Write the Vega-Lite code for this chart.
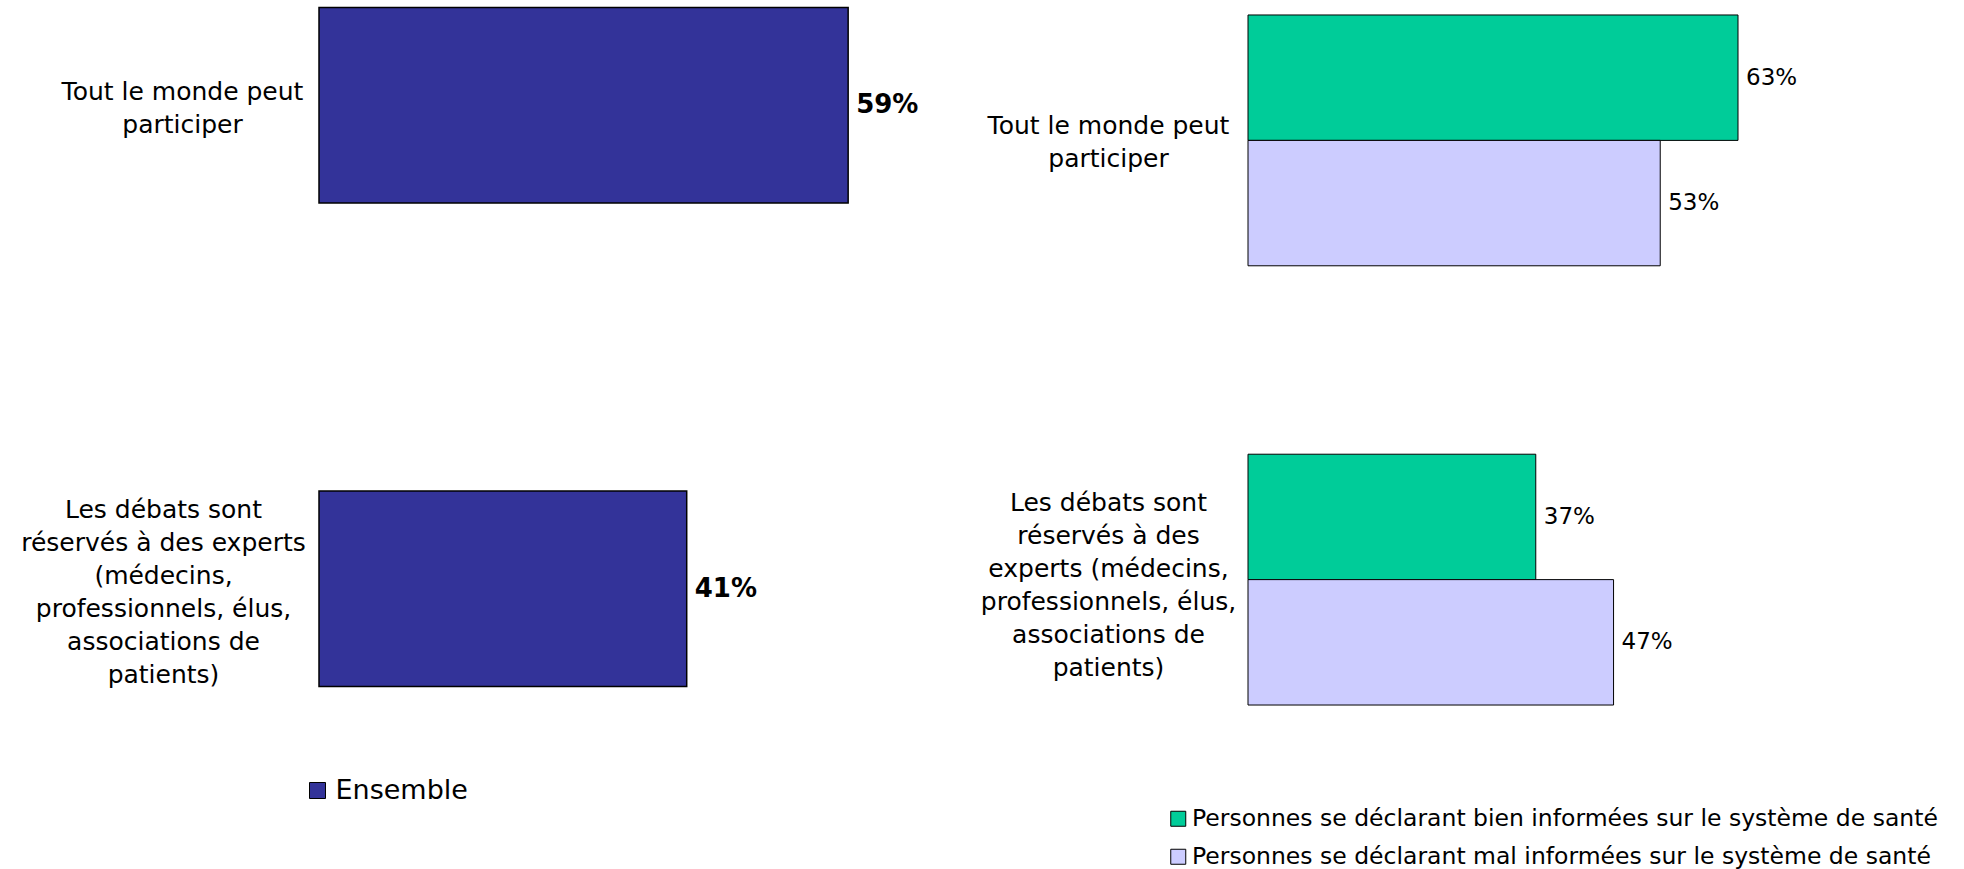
{
  "$schema": "https://vega.github.io/schema/vega-lite/v6.json",
  "padding": {"left": 20, "top": 0, "right": 0, "bottom": 0},
  "background": "white",
  "config": {
    "view": {"stroke": null},
    "font": "DejaVu Sans",
    "concat": {"spacing": 61}
  },
  "datasets": {
    "ensemble": [
      {"question": "Tout le monde peut participer", "groupe": "Ensemble", "valeur": 0.59},
      {"question": "Les débats sont réservés à des experts (médecins, professionnels, élus, associations de patients)", "groupe": "Ensemble", "valeur": 0.41}
    ],
    "info": [
      {"question": "Tout le monde peut participer", "population": "Personnes se déclarant bien informées sur le système de santé", "valeur": 0.63},
      {"question": "Tout le monde peut participer", "population": "Personnes se déclarant mal informées sur le système de santé", "valeur": 0.53},
      {"question": "Les débats sont réservés à des experts (médecins, professionnels, élus, associations de patients)", "population": "Personnes se déclarant bien informées sur le système de santé", "valeur": 0.37},
      {"question": "Les débats sont réservés à des experts (médecins, professionnels, élus, associations de patients)", "population": "Personnes se déclarant mal informées sur le système de santé", "valeur": 0.47}
    ]
  },
  "hconcat": [
    {
      "width": 600,
      "height": 694,
      "data": {"name": "ensemble"},
      "encoding": {
        "y": {
          "field": "question",
          "type": "nominal",
          "sort": null,
          "scale": {"paddingInner": 0.596, "paddingOuter": 0.0157},
          "axis": {
            "title": null,
            "domain": false,
            "ticks": false,
            "tickSize": 0,
            "labelAlign": "center",
            "labelBaseline": "middle",
            "labelFont": "DejaVu Sans",
            "labelFontSize": 25,
            "labelColor": "black",
            "labelLineHeight": 33,
            "labelLimit": 1000,
            "labelPadding": {"condition": {"test": "datum.value == 'Tout le monde peut participer'", "value": 137}, "value": 156},
            "labelOffset": {"condition": {"test": "datum.value == 'Tout le monde peut participer'", "value": -13.5}, "value": -79},
            "labelExpr": "datum.value == 'Tout le monde peut participer' ? ['Tout le monde peut', 'participer'] : ['Les débats sont', 'réservés à des experts', '(médecins,', 'professionnels, élus,', 'associations de', 'patients)']"
          }
        },
        "x": {
          "field": "valeur",
          "type": "quantitative",
          "scale": {"domain": [0, 0.669], "nice": false},
          "axis": null
        }
      },
      "layer": [
        {
          "mark": {"type": "bar", "stroke": "black", "strokeWidth": 1.5},
          "encoding": {
            "color": {
              "field": "groupe",
              "type": "nominal",
              "scale": {"range": ["#333399"]},
              "legend": {
                "title": null,
                "orient": "none",
                "legendX": -15,
                "legendY": 777,
                "symbolType": "square",
                "symbolSize": 256,
                "symbolStrokeColor": "black",
                "symbolStrokeWidth": 1,
                "labelFont": "DejaVu Sans",
                "labelFontSize": 27,
                "labelColor": "black",
                "labelOffset": 4.5,
                "labelLimit": 1000
              }
            }
          }
        },
        {
          "mark": {"type": "text", "align": "left", "baseline": "middle", "dx": 8, "fontWeight": "bold", "fontSize": 26, "font": "DejaVu Sans", "color": "black"},
          "encoding": {"text": {"field": "valeur", "type": "quantitative", "format": ".0%"}}
        }
      ]
    },
    {
      "width": 700,
      "height": 720,
      "data": {"name": "info"},
      "encoding": {
        "y": {
          "field": "question",
          "type": "nominal",
          "sort": null,
          "scale": {"paddingInner": 0.429, "paddingOuter": 0.0341},
          "axis": {
            "title": null,
            "domain": false,
            "ticks": false,
            "tickSize": 0,
            "labelAlign": "center",
            "labelBaseline": "middle",
            "labelFont": "DejaVu Sans",
            "labelFontSize": 25,
            "labelColor": "black",
            "labelLineHeight": 33,
            "labelLimit": 1000,
            "labelPadding": 140,
            "labelOffset": {"condition": {"test": "datum.value == 'Tout le monde peut participer'", "value": -14}, "value": -77},
            "labelExpr": "datum.value == 'Tout le monde peut participer' ? ['Tout le monde peut', 'participer'] : ['Les débats sont', 'réservés à des', 'experts (médecins,', 'professionnels, élus,', 'associations de', 'patients)']"
          }
        },
        "yOffset": {"field": "population", "type": "nominal", "sort": null, "scale": {"paddingInner": 0, "paddingOuter": 0}},
        "x": {
          "field": "valeur",
          "type": "quantitative",
          "scale": {"domain": [0, 0.9], "nice": false},
          "axis": null
        }
      },
      "layer": [
        {
          "mark": {"type": "bar", "stroke": "black", "strokeWidth": 1},
          "encoding": {
            "color": {
              "field": "population",
              "type": "nominal",
              "sort": null,
              "scale": {"range": ["#00CC99", "#CCCCFF"]},
              "legend": {
                "title": null,
                "orient": "none",
                "legendX": -81.5,
                "legendY": 807,
                "symbolType": "square",
                "symbolSize": 225,
                "symbolStrokeColor": "black",
                "symbolStrokeWidth": 1,
                "labelFont": "DejaVu Sans",
                "labelFontSize": 23.5,
                "labelColor": "black",
                "labelOffset": 2,
                "rowPadding": 13,
                "labelLimit": 1000
              }
            }
          }
        },
        {
          "mark": {"type": "text", "align": "left", "baseline": "middle", "dx": 8, "fontSize": 23, "font": "DejaVu Sans", "color": "black"},
          "encoding": {"text": {"field": "valeur", "type": "quantitative", "format": ".0%"}}
        }
      ]
    }
  ],
  "resolve": {"scale": {"color": "independent"}, "legend": {"color": "independent"}}
}
